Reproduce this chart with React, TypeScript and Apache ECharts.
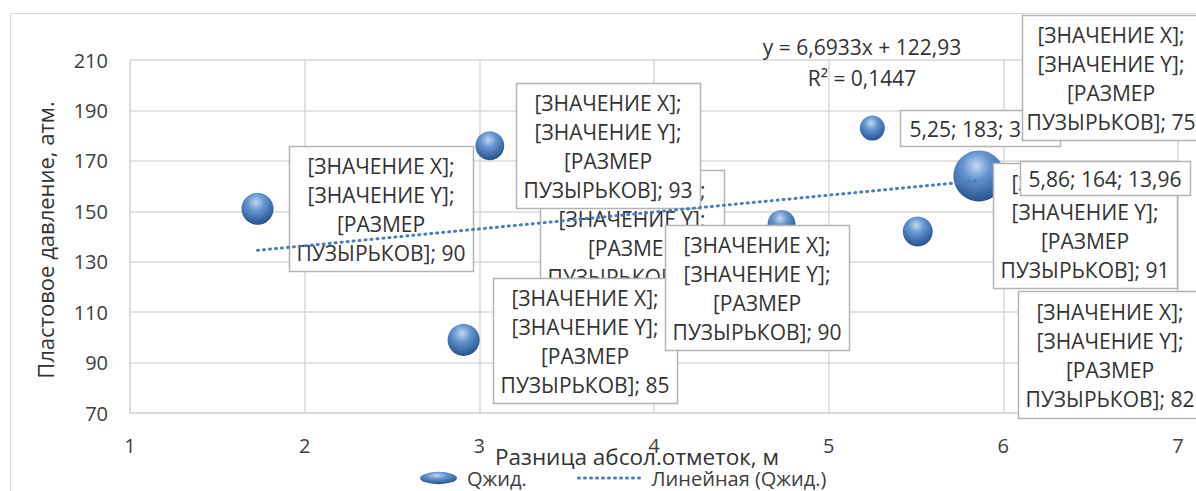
import React, { useEffect, useRef } from "react";
import * as echarts from "echarts";

// ---- data ----
const xValues = [1.73, 3.06, 2.91, 4.73, 5.25, 5.86, 5.51];
const yValues = [151, 176, 99, 145, 183, 164, 142];
const bubbleSizes = [5.5, 4.5, 5.5, 4.2, 3.36, 13.96, 4.83];
const xTicks = [1, 2, 3, 4, 5, 6, 7];
const yTicks = [70, 90, 110, 130, 150, 170, 190, 210];
const trendSlope = 6.6933;
const trendIntercept = 122.93;
const rSquared = 0.1447;
const placeholderTags = [90, 93, 90, 85, 90, 75, 91, 82];

const seriesName = "Qжид.";
const trendName = "Линейная (Qжид.)";
const xTitle = "Разница абсол.отметок, м";
const yTitle = "Пластовое давление, атм.";

// ---- layout / style ----
const FONT = "'Open Sans', 'Noto Sans', sans-serif";
const TEXT = "#404040";
const GRID = "#d9d9d9";
const MAX_R = 25.5;

const fmt = (v: number) => String(v).replace(".", ",");
const placeholderText = (tag: number) =>
  `[ЗНАЧЕНИЕ X];\n[ЗНАЧЕНИЕ Y];\n[РАЗМЕР\nПУЗЫРЬКОВ]; ${tag}`;
const valueText = (i: number) =>
  `${fmt(xValues[i])}; ${fmt(yValues[i])}; ${fmt(bubbleSizes[i])}`;

// label boxes in pixel layout, drawn bottom to top
const boxLayout = [
  { l: 540, t: 170, w: 184, h: 125, text: placeholderText(placeholderTags[2]) },
  { l: 289, t: 146, w: 184, h: 125, text: placeholderText(placeholderTags[0]) },
  { l: 516, t: 83, w: 184, h: 125, text: placeholderText(placeholderTags[1]) },
  { l: 493, t: 278, w: 184, h: 125, text: placeholderText(placeholderTags[3]) },
  { l: 665, t: 225, w: 184, h: 125, text: placeholderText(placeholderTags[4]) },
  { l: 900, t: 110, w: 160, h: 36, text: valueText(4) },
  { l: 1022, t: 15, w: 178, h: 125, text: placeholderText(placeholderTags[5]) },
  { l: 993, t: 163, w: 184, h: 125, text: placeholderText(placeholderTags[6]) },
  { l: 1020, t: 161, w: 170, h: 34, text: valueText(5) },
  { l: 1018, t: 291, w: 184, h: 127, text: placeholderText(placeholderTags[7]) },
];

export default function App() {
  const ref = useRef<HTMLDivElement>(null);

  useEffect(() => {
    if (!ref.current) return;
    const chart = echarts.init(ref.current, undefined, { renderer: "svg" });

    const maxSize = Math.max(...bubbleSizes);
    const bubbleData = xValues.map((x, i) => [x, yValues[i], bubbleSizes[i]]);
    const minX = Math.min(...xValues);
    const maxX = Math.max(...xValues);
    const trendData = [
      [minX, trendSlope * minX + trendIntercept],
      [maxX, trendSlope * maxX + trendIntercept],
    ];

    const sphere = new echarts.graphic.RadialGradient(0.45, 0.3, 0.75, [
      { offset: 0, color: "#c2d8f0" },
      { offset: 0.35, color: "#6696d0" },
      { offset: 0.75, color: "#3966a3" },
      { offset: 1, color: "#244b80" },
    ]);

    const boxElements: any[] = [];
    boxLayout.forEach((b, i) => {
      boxElements.push({
        type: "rect",
        z: 5,
        z2: i * 2,
        shape: { x: b.l + 0.5, y: b.t + 0.5, width: b.w, height: b.h },
        style: { fill: "#ffffff", stroke: "#b4b4b4", lineWidth: 1.5 },
        silent: true,
      });
      boxElements.push({
        type: "text",
        z: 5,
        z2: i * 2 + 1,
        x: b.l + b.w / 2,
        y: b.t + b.h / 2 + 1,
        style: {
          text: b.text,
          align: "center",
          verticalAlign: "middle",
          font: `21px ${FONT}`,
          lineHeight: 29,
          fill: "#333333",
        },
        silent: true,
      });
    });

    const option: any = {
      animation: false,
      backgroundColor: "#ffffff",
      textStyle: { fontFamily: FONT },
      grid: { left: 130, right: 18, top: 60, bottom: 78, containLabel: false },
      xAxis: {
        type: "value",
        min: xTicks[0],
        max: xTicks[xTicks.length - 1],
        interval: 1,
        axisLine: { show: true, lineStyle: { color: GRID, width: 1.5 } },
        axisTick: { show: false },
        splitLine: { show: true, lineStyle: { color: GRID, width: 1.5 } },
        axisLabel: { color: TEXT, fontSize: 20, margin: 22, fontFamily: FONT },
      },
      yAxis: {
        type: "value",
        min: yTicks[0],
        max: yTicks[yTicks.length - 1],
        interval: 20,
        axisLine: { show: true, lineStyle: { color: GRID, width: 1.5 } },
        axisTick: { show: false },
        splitLine: { show: true, lineStyle: { color: GRID, width: 1.5 } },
        axisLabel: { color: TEXT, fontSize: 20, margin: 22, fontFamily: FONT },
      },
      legend: [
        {
          data: [{ name: seriesName, icon: "path://M0,6A18,6,0,1,0,36,6A18,6,0,1,0,0,6Z" }],
          left: 415,
          top: 463,
          itemWidth: 37,
          itemHeight: 13,
          textStyle: { color: TEXT, fontSize: 20, fontFamily: FONT, padding: [0, 0, 0, 5] },
          selectedMode: false,
        },
        {
          data: [trendName],
          left: 572,
          top: 463,
          itemWidth: 64,
          itemHeight: 13,
          itemStyle: { opacity: 0 },
          lineStyle: { color: "#4a7ebb", width: 3, type: [1, 5], cap: "round", opacity: 1 },
          textStyle: { color: TEXT, fontSize: 20, fontFamily: FONT, padding: [0, 0, 0, 4] },
          selectedMode: false,
        },
      ],
      series: [
        {
          name: seriesName,
          type: "scatter",
          z: 2,
          data: bubbleData,
          symbolSize: (v: number[]) => 2 * MAX_R * Math.sqrt(v[2] / maxSize),
          itemStyle: { color: sphere, opacity: 1 },
          emphasis: { disabled: true },
        },
        {
          name: trendName,
          type: "line",
          z: 10,
          data: trendData,
          symbol: "none",
          lineStyle: { color: "#4a7ebb", width: 3, type: [1, 5], cap: "round" },
          itemStyle: { color: "#4a7ebb" },
          emphasis: { disabled: true },
        },
      ],
      graphic: [
        {
          type: "rect",
          z: 0,
          shape: { x: 10.5, y: 13.5, width: 1400, height: 700 },
          style: { fill: "none", stroke: GRID, lineWidth: 1 },
          silent: true,
        },
        ...boxElements,
        {
          type: "text",
          z: 6,
          x: 862,
          y: 47,
          style: {
            text: `y = ${fmt(trendSlope)}x + ${fmt(trendIntercept)}`,
            align: "center",
            verticalAlign: "middle",
            font: `21px ${FONT}`,
            fill: "#333333",
          },
        },
        {
          type: "text",
          z: 6,
          x: 862,
          y: 78,
          style: {
            text: `R² = ${fmt(rSquared)}`,
            align: "center",
            verticalAlign: "middle",
            font: `21px ${FONT}`,
            fill: "#333333",
          },
        },
        {
          type: "text",
          z: 6,
          x: 637,
          y: 456,
          style: {
            text: xTitle,
            align: "center",
            verticalAlign: "middle",
            font: `22.5px ${FONT}`,
            fill: "#333333",
          },
        },
        {
          type: "text",
          z: 6,
          x: 45,
          y: 240,
          rotation: Math.PI / 2,
          style: {
            text: yTitle,
            align: "center",
            verticalAlign: "middle",
            font: `22px ${FONT}`,
            fill: "#333333",
          },
        },
      ],
    };

    chart.setOption(option);
    return () => chart.dispose();
  }, []);

  return (
    <div
      ref={ref}
      style={{ position: "fixed", left: 0, top: 0, width: 1196, height: 491 }}
    />
  );
}
